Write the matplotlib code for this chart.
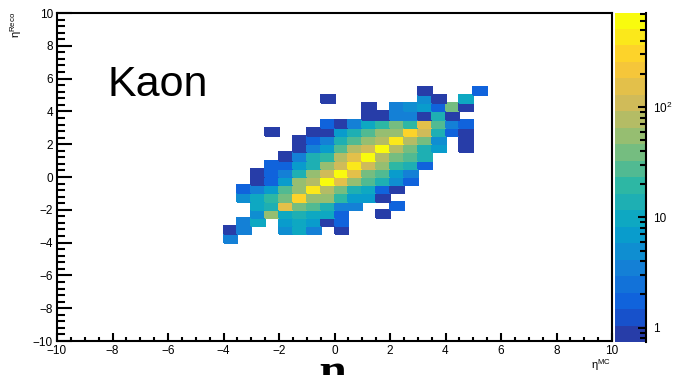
import numpy as np
import matplotlib
matplotlib.use('Agg')
import matplotlib.pyplot as plt
from matplotlib.colors import LinearSegmentedColormap, ListedColormap, LogNorm
from matplotlib.ticker import FixedLocator, NullFormatter

# eta^MC / eta^Reco binning: 0.5 wide bins, only the filled block is listed
eta_mc_edges = np.arange(-4.0, 5.51, 0.5)
eta_reco_edges = np.arange(-4.0, 5.51, 0.5)

# entries per bin, top row = eta^Reco 5.0..5.5, first column = eta^MC -4.0..-3.5
counts = [
    [0, 0, 0, 0, 0, 0, 0, 0, 0, 0, 0, 0, 0, 0, 1, 0, 0, 0, 2],
    [0, 0, 0, 0, 0, 0, 0, 1, 0, 0, 0, 0, 0, 0, 5, 1, 0, 10, 0],
    [0, 0, 0, 0, 0, 0, 0, 0, 0, 0, 1, 0, 3, 5, 7, 2, 40, 1, 0],
    [0, 0, 0, 0, 0, 0, 0, 0, 0, 0, 1, 1, 3, 3, 1, 14, 1, 0, 0],
    [0, 0, 0, 0, 0, 0, 0, 2, 1, 3, 10, 19, 40, 19, 155, 27, 3, 2, 0],
    [0, 0, 0, 1, 0, 0, 1, 1, 7, 14, 27, 55, 55, 280, 110, 14, 2, 1, 0],
    [0, 0, 0, 0, 0, 1, 2, 3, 14, 27, 55, 78, 420, 78, 40, 5, 0, 1, 0],
    [0, 0, 0, 0, 0, 1, 3, 7, 27, 78, 110, 600, 78, 40, 14, 7, 0, 1, 0],
    [0, 0, 0, 0, 1, 3, 14, 19, 78, 155, 600, 78, 40, 27, 14, 0, 0, 0, 0],
    [0, 0, 0, 2, 2, 7, 14, 55, 110, 420, 110, 55, 19, 12, 2, 0, 0, 0, 0],
    [0, 0, 1, 2, 3, 14, 55, 110, 600, 155, 40, 27, 7, 3, 0, 0, 0, 0, 0],
    [0, 0, 1, 2, 7, 55, 78, 600, 155, 55, 27, 14, 5, 2, 0, 0, 0, 0, 0],
    [0, 2, 3, 7, 27, 55, 420, 78, 40, 14, 10, 2, 1, 0, 0, 0, 0, 0, 0],
    [0, 5, 10, 19, 40, 280, 55, 55, 19, 7, 7, 1, 0, 0, 0, 0, 0, 0, 0],
    [0, 0, 10, 14, 155, 40, 27, 14, 3, 3, 0, 0, 2, 0, 0, 0, 0, 0, 0],
    [0, 0, 5, 55, 10, 14, 10, 10, 2, 0, 0, 1, 0, 0, 0, 0, 0, 0, 0],
    [0, 3, 10, 0, 7, 10, 7, 1, 2, 0, 0, 0, 0, 0, 0, 0, 0, 0, 0],
    [1, 3, 0, 0, 5, 10, 3, 0, 1, 0, 0, 0, 0, 0, 0, 0, 0, 0, 0],
    [3, 0, 0, 0, 0, 0, 0, 0, 0, 0, 0, 0, 0, 0, 0, 0, 0, 0, 0],
]
z_min, z_max = 0.74, 720.0
cbar_ticks = [1, 10, 100]
cbar_labels = ['1', '10', '$10^{2}$']

plt.rcParams.update({'font.family': ['Liberation Sans', 'DejaVu Sans'],
                     'mathtext.default': 'regular'})

# ROOT kBird palette, 20 contour levels
stops = [0.0, 0.125, 0.25, 0.375, 0.5, 0.625, 0.75, 0.875, 1.0]
red = [0.2082, 0.0592, 0.0780, 0.0232, 0.1802, 0.5301, 0.8186, 0.9956, 0.9764]
green = [0.1664, 0.3599, 0.5041, 0.6419, 0.7178, 0.7492, 0.7328, 0.7862, 0.9832]
blue = [0.5293, 0.8684, 0.8385, 0.7914, 0.6425, 0.4662, 0.3499, 0.1968, 0.0539]
bird = LinearSegmentedColormap.from_list('bird', list(zip(stops, zip(red, green, blue))))
ncont = 20
cmap = ListedColormap(bird((np.arange(ncont) + 0.99) / ncont))
norm = LogNorm(vmin=z_min, vmax=z_max)

W, H = 674, 375
fig = plt.figure(figsize=(W / 100, H / 100), dpi=100)
ax = fig.add_axes([57 / W, 34 / H, 555 / W, 328 / H])

hist = np.ma.masked_equal(np.array(counts[::-1], dtype=float), 0)
mesh = ax.pcolormesh(eta_mc_edges, eta_reco_edges, hist, cmap=cmap, norm=norm,
                     edgecolors='face', linewidth=0.3)

ax.set_xlim(-10, 10)
ax.set_ylim(-10, 10)
ax.set_xticks(np.arange(-10, 11, 2))
ax.set_xticks(np.arange(-10, 10.01, 0.5), minor=True)
ax.set_yticks(np.arange(-10, 11, 2))
ax.set_yticks(np.arange(-10, 10.01, 0.4), minor=True)
ax.tick_params(which='both', direction='in', top=False, right=False, width=1.5,
               labelsize=8.5)
ax.tick_params(axis='x', which='major', length=6, pad=3)
ax.tick_params(axis='x', which='minor', length=3)
ax.tick_params(axis='y', which='major', length=11, pad=3)
ax.tick_params(axis='y', which='minor', length=5.5)
for sp in ax.spines.values():
    sp.set_linewidth(1.5)

# palette on the right
cax = fig.add_axes([615 / W, 33 / H, 31 / W, 329.5 / H])
cb = fig.colorbar(mesh, cax=cax)
cb.outline.set_visible(False)
cb.set_ticks(cbar_ticks)
cb.set_ticklabels(cbar_labels)
minors = [m * 10 ** e for e in range(-1, 3) for m in range(2, 10)]
cax.yaxis.set_minor_locator(FixedLocator([v for v in minors if z_min < v < z_max]))
cax.yaxis.set_minor_formatter(NullFormatter())
cax.tick_params(which='both', direction='in', width=1.5, labelsize=8.5, pad=5)
cax.tick_params(which='major', length=6)
cax.tick_params(which='minor', length=4)
cax.plot([1, 1], [0, 1], transform=cax.transAxes, color='k', lw=1.5, clip_on=False)

fig.text(107 / W, 1 - 96 / H, 'Kaon', fontsize=31, ha='left', va='baseline')
fig.text(16 / W, 1 - 12 / H, '$η^{Reco}$', fontsize=8, rotation=90,
         ha='center', va='top')
fig.text(611 / W, 1 - 369 / H, '$η^{MC}$', fontsize=8, ha='right', va='baseline')
fig.text(333 / W, -0.026, 'η', fontsize=34, fontweight='bold',
         family='Liberation Serif', ha='center', va='baseline')

fig.savefig('out.png', dpi=100)
